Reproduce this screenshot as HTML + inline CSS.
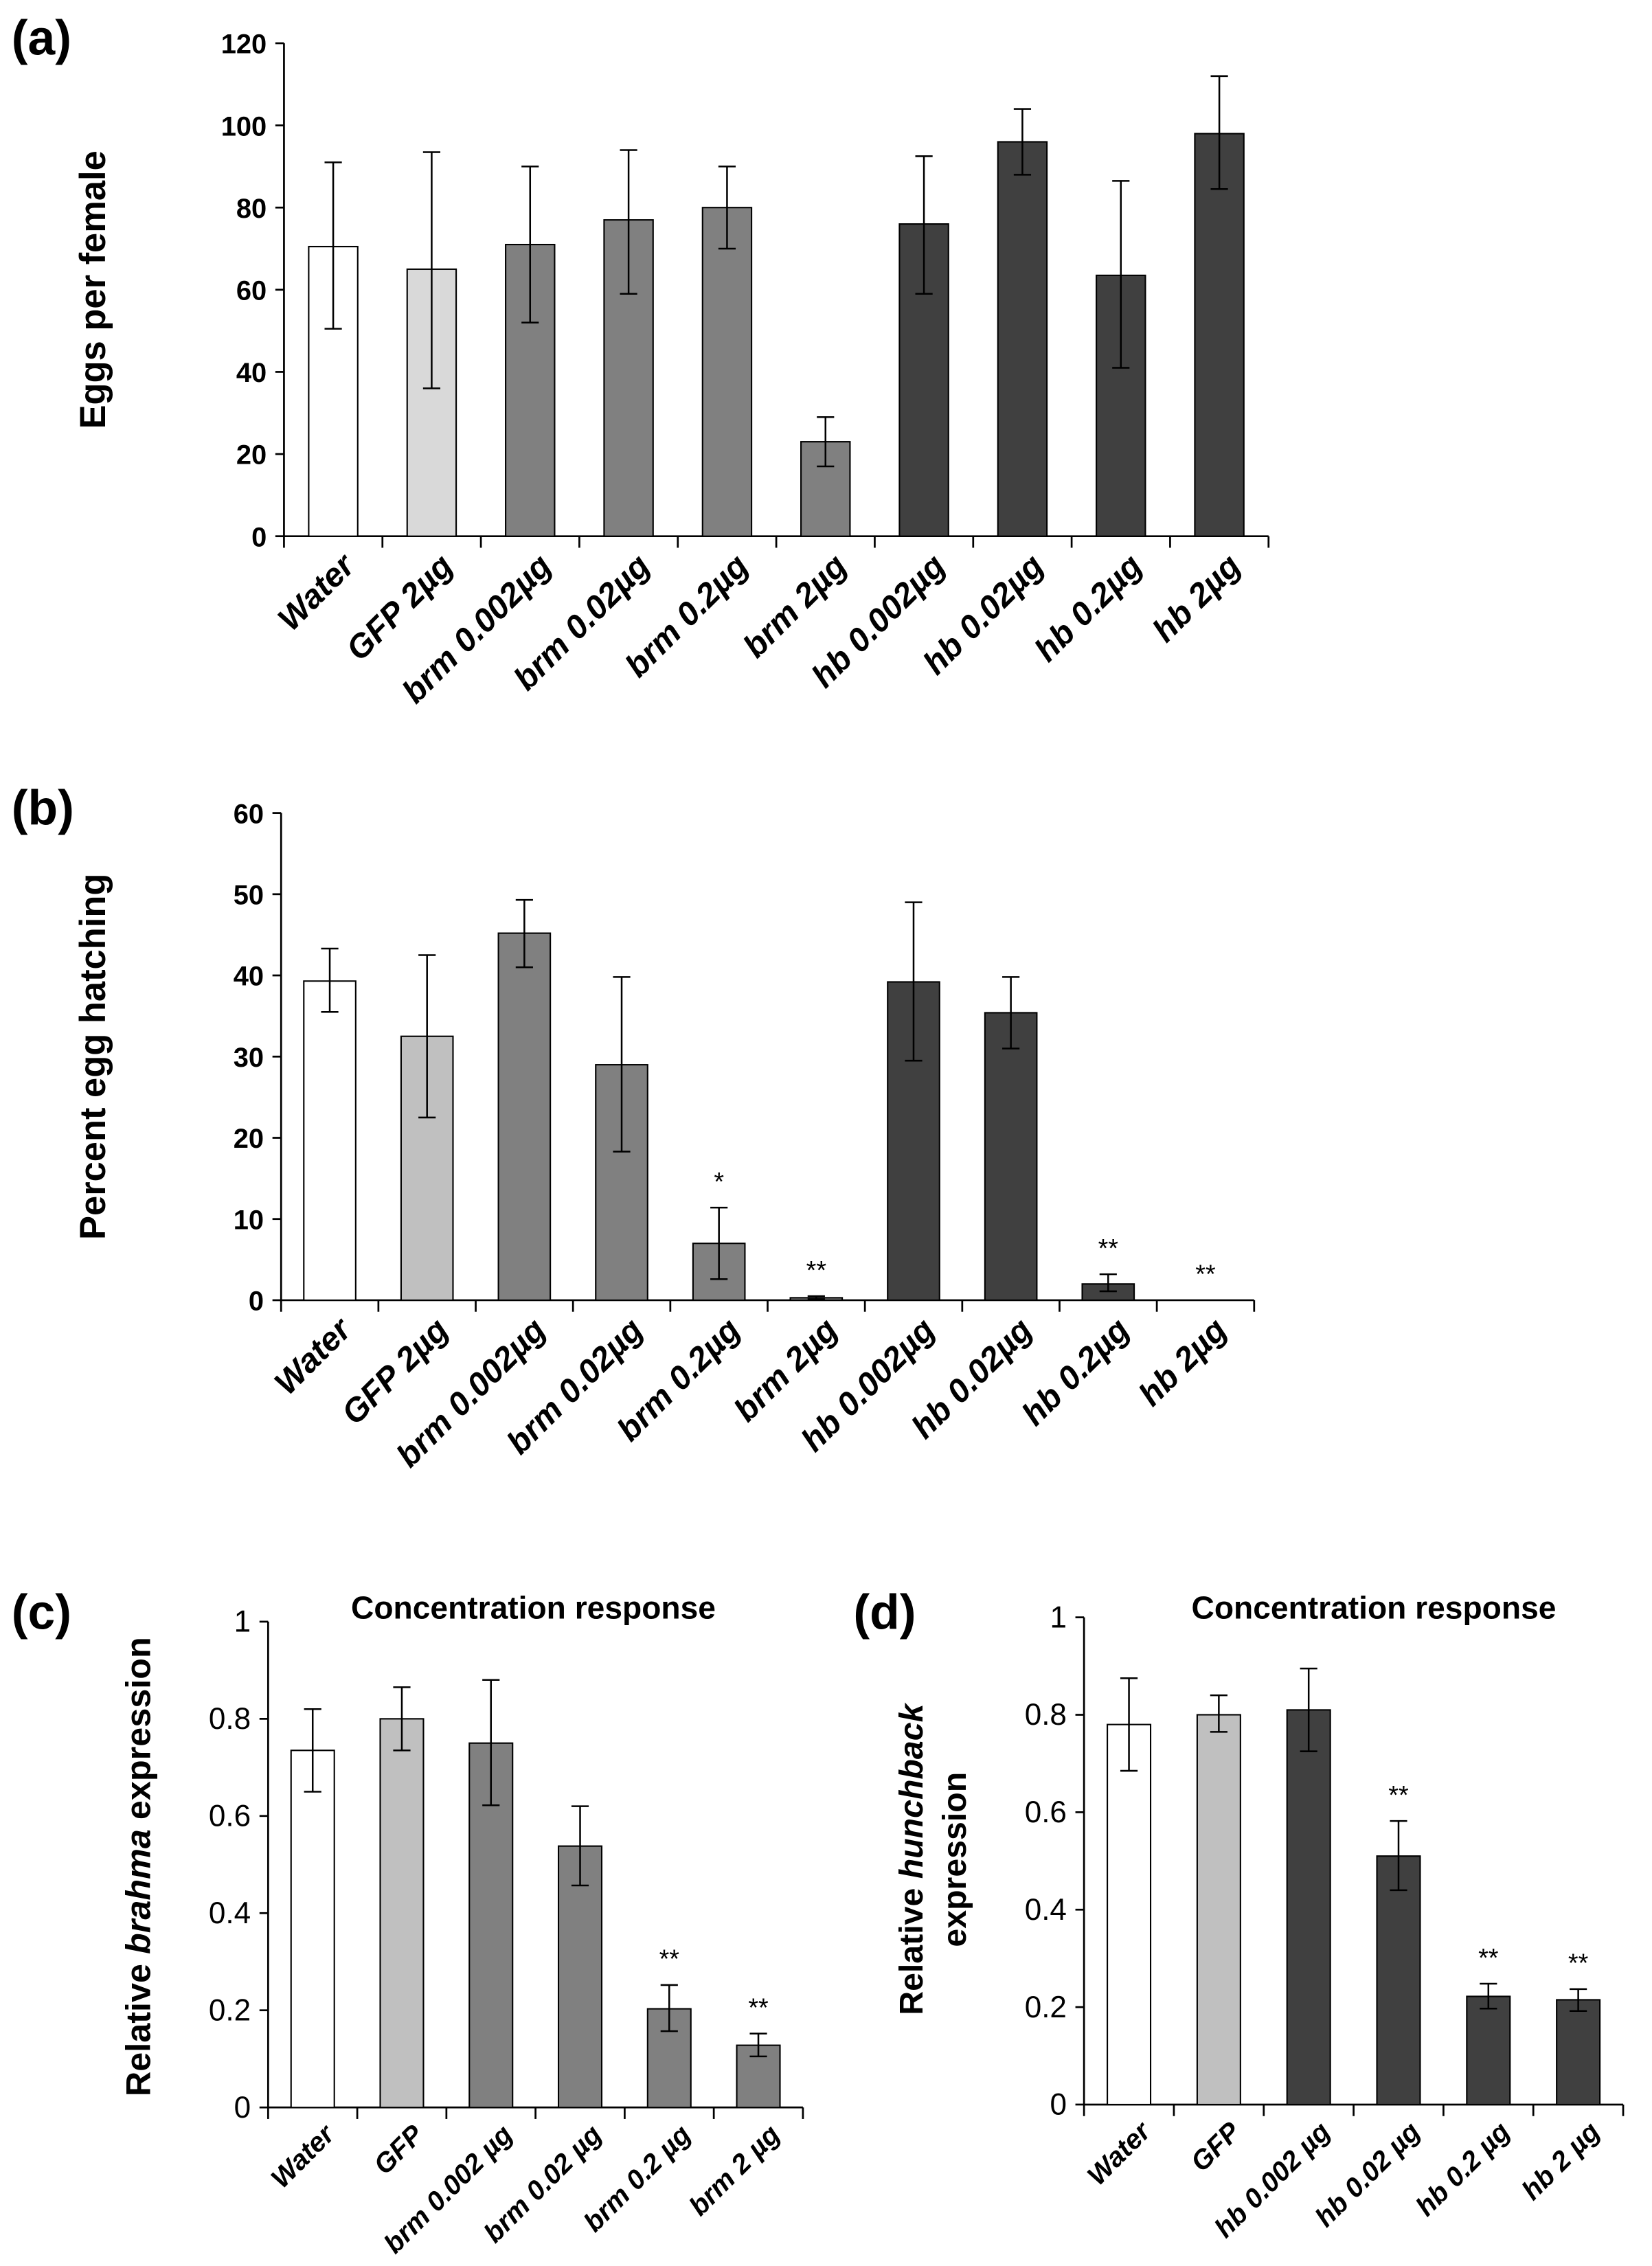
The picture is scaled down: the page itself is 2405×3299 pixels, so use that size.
<!DOCTYPE html>
<html><head><meta charset="utf-8"><style>
html,body{margin:0;padding:0;background:#fff;}
svg{display:block;}
text{font-family:"Liberation Sans",Arial,sans-serif;fill:#000;}
</style></head><body>
<svg id="fig" xmlns="http://www.w3.org/2000/svg" width="2405" height="3299" viewBox="0 0 1146 1572" preserveAspectRatio="none">
<rect width="1146" height="1572" fill="#fff"/>
<text x="8" y="38" font-size="34" font-weight="bold">(a)</text>
<text x="8" y="572" font-size="34" font-weight="bold">(b)</text>
<text x="8" y="1130" font-size="34" font-weight="bold">(c)</text>
<text x="592" y="1130" font-size="34" font-weight="bold">(d)</text>
<text x="370" y="1123" font-size="22" font-weight="bold" text-anchor="middle">Concentration response</text>
<text x="953" y="1123" font-size="22" font-weight="bold" text-anchor="middle">Concentration response</text>
<text transform="translate(73,201) rotate(-90)" font-size="25" font-weight="bold" text-anchor="middle">Eggs per female</text>
<text transform="translate(73,733) rotate(-90)" font-size="25" font-weight="bold" text-anchor="middle">Percent egg hatching</text>
<text transform="translate(104,1295) rotate(-90)" font-size="24" font-weight="bold" text-anchor="middle">Relative <tspan font-style="italic">brahma</tspan>  expression</text>
<text transform="translate(640,1290) rotate(-90)" font-size="23" font-weight="bold" text-anchor="middle">Relative <tspan font-style="italic">hunchback</tspan></text>
<text transform="translate(670,1290) rotate(-90)" font-size="23" font-weight="bold" text-anchor="middle">expression</text>
</svg>
<script>
const catsAB = ["Water","GFP 2µg","brm 0.002µg","brm 0.02µg","brm 0.2µg","brm 2µg","hb 0.002µg","hb 0.02µg","hb 0.2µg","hb 2µg"];
const colorsA = ["#ffffff","#d9d9d9","#808080","#808080","#808080","#808080","#404040","#404040","#404040","#404040"];
const colorsB = ["#ffffff","#c0c0c0","#808080","#808080","#808080","#808080","#404040","#404040","#404040","#404040"];
const valsA = [70.5,65,71,77,80,23,76,96,63.5,98];
const lowA = [50.5,36,52,59,70,17,59,88,41,84.5];
const highA = [91,93.5,90,94,90,29,92.5,104,86.5,112];
const ticksA = [0,20,40,60,80,100,120];
const valsB = [39.3,32.5,45.2,29,7,0.3,39.2,35.4,2,0];
const lowB = [35.5,22.5,41,18.3,2.6,0.1,29.5,31,1.1,0];
const highB = [43.3,42.5,49.3,39.8,11.4,0.5,49,39.8,3.2,0];
const starsB = ["","","","","*","**","","","**","**"];
const ticksB = [0,10,20,30,40,50,60];
const catsC = ["Water","GFP","brm 0.002 µg","brm 0.02 µg","brm 0.2 µg","brm 2 µg"];
const colorsC = ["#ffffff","#c0c0c0","#808080","#808080","#808080","#808080"];
const valsC = [0.735,0.80,0.75,0.538,0.203,0.128];
const lowC = [0.65,0.735,0.622,0.457,0.157,0.105];
const highC = [0.82,0.865,0.88,0.62,0.252,0.152];
const starsC = ["","","","","**","**"];
const catsD = ["Water","GFP","hb 0.002 µg","hb 0.02 µg","hb 0.2 µg","hb 2 µg"];
const colorsD = ["#ffffff","#c0c0c0","#404040","#404040","#404040","#404040"];
const valsD = [0.78,0.80,0.81,0.51,0.222,0.215];
const lowD = [0.685,0.765,0.725,0.44,0.197,0.192];
const highD = [0.875,0.84,0.895,0.582,0.248,0.237];
const starsD = ["","","","**","**","**"];
const ticksCD = [0,0.2,0.4,0.6,0.8,1];

const NS="http://www.w3.org/2000/svg";
const svg=document.getElementById('fig');
function mk(tag,attrs,parent){const e=document.createElementNS(NS,tag);for(const k in attrs)e.setAttribute(k,attrs[k]);(parent||svg).appendChild(e);return e;}

function panel(p){
  const g=mk('g',{});
  
  
  const n=p.cats.length, step=(p.x1-p.x0)/n;
  const y=v=>p.y0-(v-p.min)/(p.max-p.min)*(p.y0-p.y1);
  const xc=i=>p.x0+step*(i+0.5);
  const ax=mk('line',{x1:p.x0,y1:y(p.max),x2:p.x0,y2:p.y0,stroke:'#000','stroke-width':1.3},g);
  
  
  p.ticks.forEach(t=>{
    mk('line',{x1:p.x0-6,y1:y(t),x2:p.x0,y2:y(t),stroke:'#000','stroke-width':1.3},g);
    const tx=mk('text',{x:p.x0-12,y:y(t)+7,'font-size':p.tfs,'font-weight':p.tfw,'text-anchor':'end'},g);
    tx.textContent=t;
    
    
  });
  const xa=mk('line',{x1:p.x0,y1:p.y0,x2:p.x1,y2:p.y0,stroke:'#000','stroke-width':1.3},g);
  
  
  for(let i=0;i<=n;i++){mk('line',{x1:p.x0+step*i,y1:p.y0,x2:p.x0+step*i,y2:p.y0+8,stroke:'#000','stroke-width':1.3},g);}
  p.vals.forEach((v,i)=>{
    const cx=xc(i);
    const r=mk('rect',{x:cx-p.bw/2,y:y(v),width:p.bw,height:p.y0-y(v),fill:p.colors[i],stroke:'#000','stroke-width':1},g);
    
    
    if(p.high[i]>p.low[i]){
      const e=mk('path',{d:`M${cx},${y(p.low[i])}V${y(p.high[i])}M${cx-6},${y(p.low[i])}H${cx+6}M${cx-6},${y(p.high[i])}H${cx+6}`,stroke:'#000','stroke-width':1.2,fill:'none'},g);
      
      
    }
    if(p.stars&&p.stars[i]){
      const s=mk('text',{x:cx,y:y(Math.max(p.high[i],v))-12,'font-size':18,'text-anchor':'middle'},g);
      s.textContent=p.stars[i];
      
      
    }
    const lx=cx+p.lo, ly=p.y0+p.ly;
    const l=mk('text',{transform:`translate(${lx},${ly}) rotate(-45)`,'font-size':p.lfs,'font-weight':'bold','font-style':'italic','text-anchor':'end'},g);
    l.textContent=p.cats[i];
    
    
  });
}
panel({id:'a',cats:catsAB,colors:colorsA,vals:valsA,low:lowA,high:highA,ticks:ticksA,min:0,max:120,x0:197,x1:880,y0:372,y1:30,bw:34,tfs:19,tfw:'bold',lfs:23,lo:16,ly:22});
panel({id:'b',cats:catsAB,colors:colorsB,vals:valsB,low:lowB,high:highB,stars:starsB,ticks:ticksB,min:0,max:60,x0:195,x1:870,y0:902,y1:564,bw:36,tfs:19,tfw:'bold',lfs:23,lo:16,ly:22});
panel({id:'c',cats:catsC,colors:colorsC,vals:valsC,low:lowC,high:highC,stars:starsC,ticks:ticksCD,min:0,max:1,x0:186,x1:557,y0:1462,y1:1125,bw:30,tfs:21,tfw:'normal',lfs:19,lo:16,ly:20});
panel({id:'d',cats:catsD,colors:colorsD,vals:valsD,low:lowD,high:highD,stars:starsD,ticks:ticksCD,min:0,max:1,x0:752,x1:1126,y0:1460,y1:1122,bw:30,tfs:21,tfw:'normal',lfs:19,lo:16,ly:20});
</script>
</body></html>
